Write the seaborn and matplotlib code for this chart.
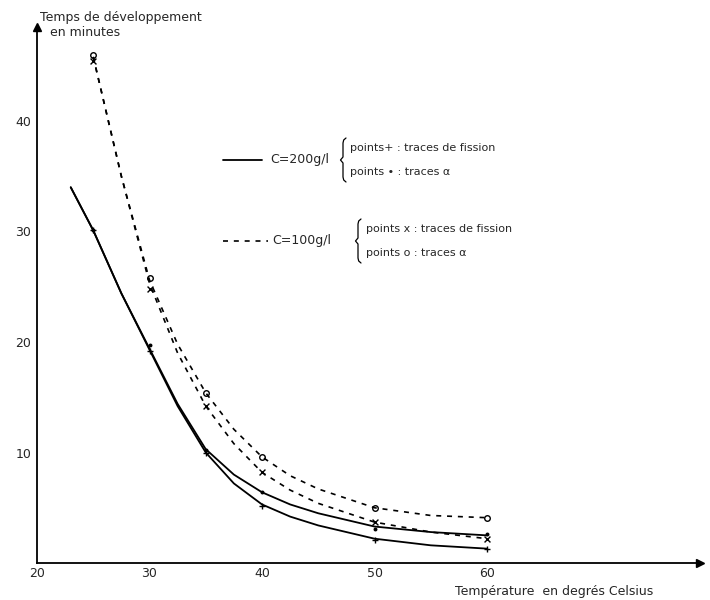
import matplotlib
matplotlib.use("Agg")
import pandas as pd
import matplotlib.pyplot as plt
from matplotlib.lines import Line2D
import seaborn as sns

# Temperatures of the measured points (degrees Celsius)
temperatures = [25, 30, 35, 40, 50, 60]

# C = 200 g/l : development time in minutes
solid_fission_pts = [30.1, 19.2, 10.0, 5.2, 2.1, 1.3]
solid_alpha_pts = [30.1, 19.7, 10.2, 6.4, 3.1, 2.6]

# C = 100 g/l
dashed_fission_pts = [45.4, 24.8, 14.2, 8.2, 3.7, 2.2]
dashed_alpha_pts = [46.0, 25.8, 15.4, 9.6, 5.0, 4.1]

# hand drawn curves
solid_curve_t = [23, 25, 27.5, 30, 32.5, 35, 37.5, 40, 42.5, 45, 50, 55, 60]
solid_upper_y = [34.0, 30.1, 24.4, 19.4, 14.4, 10.3, 8.0, 6.4, 5.3, 4.5, 3.3, 2.8, 2.5]
solid_lower_y = [34.0, 30.1, 24.4, 19.3, 14.2, 10.0, 7.2, 5.3, 4.2, 3.4, 2.2, 1.6, 1.3]

dashed_curve_t = [25, 27.5, 30, 32.5, 35, 37.5, 40, 42.5, 45, 50, 55, 60]
dashed_upper_y = [45.8, 35.0, 25.6, 19.8, 15.4, 12.1, 9.6, 7.9, 6.7, 5.0, 4.3, 4.1]
dashed_lower_y = [45.8, 35.0, 25.3, 19.0, 14.2, 10.8, 8.2, 6.6, 5.4, 3.7, 2.8, 2.2]

# Legend texts
legend_solid = "C=200g/l"
legend_dashed = "C=100g/l"
legend_solid_pts = ["points+ : traces de fission", "points • : traces α"]
legend_dashed_pts = ["points x : traces de fission", "points o : traces α"]

W, H = 710, 600


def fx(px):
    return px / W


def fy(py):
    return 1 - py / H


def brace(fig, x, y0, y1):
    mid = (y0 + y1) / 2
    pts = [(x + 3, y0), (x + 0.7, y0 + 2), (x, y0 + 5), (x, mid - 3), (x - 2.5, mid),
           (x, mid + 3), (x, y1 - 5), (x + 0.7, y1 - 2), (x + 3, y1)]
    fig.add_artist(Line2D([fx(p[0]) for p in pts], [fy(p[1]) for p in pts],
                          color="black", lw=0.9, transform=fig.transFigure))


def main():
    sns.set_style("white")
    plt.rcParams["font.family"] = ["DejaVu Sans"]

    fig = plt.figure(figsize=(7.1, 6.0), dpi=100)
    ax = fig.add_axes([fx(37), fy(563), fx(700) - fx(37), fy(27) - fy(563)])

    solid = pd.DataFrame({"t": solid_curve_t, "up": solid_upper_y, "low": solid_lower_y})
    dashed = pd.DataFrame({"t": dashed_curve_t, "up": dashed_upper_y, "low": dashed_lower_y})
    pts = pd.DataFrame({"t": temperatures,
                        "sf": solid_fission_pts, "sa": solid_alpha_pts,
                        "df": dashed_fission_pts, "da": dashed_alpha_pts})

    for col in ["up", "low"]:
        sns.lineplot(data=solid, x="t", y=col, ax=ax, color="black", lw=1.3,
                     estimator=None, sort=False)
    for col in ["up", "low"]:
        sns.lineplot(data=dashed, x="t", y=col, ax=ax, color="black", lw=1.2,
                     estimator=None, sort=False)
        ax.lines[-1].set_dashes([3, 3.5])

    sns.scatterplot(data=pts, x="t", y="sf", ax=ax, marker="+", s=22, color="black", linewidth=1)
    sns.scatterplot(data=pts, x="t", y="sa", ax=ax, marker="o", s=8, color="black", linewidth=0)
    sns.scatterplot(data=pts, x="t", y="df", ax=ax, marker="x", s=18, color="black", linewidth=1)
    sns.scatterplot(data=pts, x="t", y="da", ax=ax, marker="o", s=16, facecolor="white",
                    edgecolor="black", linewidth=1)

    ax.set_xlim(20, 20 + (700 - 37) / 11.25)
    ax.set_ylim(0, (563 - 27) / 11.05)
    ax.set_xticks([20, 30, 40, 50, 60])
    ax.set_yticks([10, 20, 30, 40])
    ax.tick_params(direction="in", length=4, width=1, labelsize=9, pad=4, color="black")
    ax.tick_params(axis="x", pad=3)
    ax.set_xlabel("")
    ax.set_ylabel("")
    for side in ["top", "right"]:
        ax.spines[side].set_visible(False)
    for side in ["left", "bottom"]:
        ax.spines[side].set_color("black")
        ax.spines[side].set_linewidth(1.3)
    ax.plot(1, 0, ">", color="black", ms=6, transform=ax.transAxes, clip_on=False)
    ax.plot(0, 1, "^", color="black", ms=6, transform=ax.transAxes, clip_on=False)

    fig.text(fx(40), fy(18), "Temps de développement", fontsize=9, va="center")
    fig.text(fx(50), fy(33), "en minutes", fontsize=9, va="center")
    fig.text(fx(455), fy(592), "Température  en degrés Celsius", fontsize=9, va="center")

    # legend, solid group
    ys, yd = 160, 241
    fig.add_artist(Line2D([fx(223), fx(262)], [fy(ys), fy(ys)], color="black", lw=1.3,
                          transform=fig.transFigure))
    fig.text(fx(270), fy(ys), legend_solid, fontsize=9, va="center")
    brace(fig, 343, ys - 22, ys + 22)
    fig.text(fx(350), fy(ys - 12), legend_solid_pts[0], fontsize=8, va="center")
    fig.text(fx(350), fy(ys + 12), legend_solid_pts[1], fontsize=8, va="center")

    # legend, dashed group
    fig.add_artist(Line2D([fx(223), fx(268)], [fy(yd), fy(yd)], color="black", lw=1.2,
                          dashes=[3, 3.5], transform=fig.transFigure))
    fig.text(fx(272), fy(yd), legend_dashed, fontsize=9, va="center")
    brace(fig, 358, yd - 22, yd + 22)
    fig.text(fx(366), fy(yd - 12), legend_dashed_pts[0], fontsize=8, va="center")
    fig.text(fx(366), fy(yd + 12), legend_dashed_pts[1], fontsize=8, va="center")

    fig.savefig("out.png", dpi=100)


if __name__ == "__main__":
    main()
